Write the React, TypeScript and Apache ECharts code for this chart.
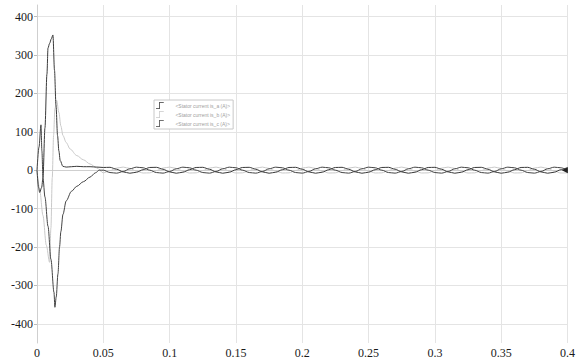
import React, { useEffect, useRef } from "react";
import * as echarts from "echarts";

// Transient part of each phase current: [time (s)], [current (A)]
const aTime = [0, 0.0012, 0.002, 0.0035, 0.0045, 0.006, 0.0075, 0.0083, 0.0095, 0.0108, 0.012, 0.0132, 0.0143, 0.0155, 0.0165, 0.0175, 0.0195, 0.022, 0.026, 0.03, 0.035, 0.04, 0.045];
const aTransient = [0, -45, -58, -45, -20, 110, 250, 318, 330, 342, 352, 260, 170, 90, 50, 25, 10, 8, 9, 10, 9, 9, 8];

const bTime = [0, 0.002, 0.0045, 0.007, 0.0095, 0.0105, 0.0115, 0.0125, 0.0135, 0.0148, 0.0165, 0.018, 0.0196, 0.022, 0.025, 0.03, 0.035, 0.04, 0.045];
const bTransient = [0, -50, -118, -195, -240, -150, -20, 90, 160, 182, 150, 115, 90, 72, 55, 38, 27, 16, 6];

const cTime = [0, 0.0015, 0.003, 0.0037, 0.0045, 0.006, 0.0083, 0.0105, 0.0128, 0.0135, 0.0145, 0.0158, 0.017, 0.018, 0.0196, 0.022, 0.026, 0.03, 0.035, 0.04, 0.044, 0.047];
const cTransient = [0, 60, 118, 50, -20, -70, -146, -232, -318, -357, -330, -270, -200, -160, -115, -80, -55, -42, -30, -18, -7, 0];

// Steady-state part, sampled every 5 ms from 0.05 s to 0.4 s
const steadyStart = 0.05;
const steadyStep = 0.005;
const aSteady = [
  7, 7.4, 2.4, -4.5, -8, -5.4, 1.2,
  7, 7.4, 2.4, -4.5, -8, -5.4, 1.2,
  7, 7.4, 2.4, -4.5, -8, -5.4, 1.2,
  7, 7.4, 2.4, -4.5, -8, -5.4, 1.2,
  7, 7.4, 2.4, -4.5, -8, -5.4, 1.2,
  7, 7.4, 2.4, -4.5, -8, -5.4, 1.2,
  7, 7.4, 2.4, -4.5, -8, -5.4, 1.2,
  7, 7.4, 2.4, -4.5, -8, -5.4, 1.2,
  7, 7.4, 2.4, -4.5, -8, -5.4, 1.2,
  7, 7.4, 2.4, -4.5, -8, -5.4, 1.2,
  7,
];
const bSteady = [
  -7, -1.2, 5.4, 8, 4.5, -2.4, -7.4,
  -7, -1.2, 5.4, 8, 4.5, -2.4, -7.4,
  -7, -1.2, 5.4, 8, 4.5, -2.4, -7.4,
  -7, -1.2, 5.4, 8, 4.5, -2.4, -7.4,
  -7, -1.2, 5.4, 8, 4.5, -2.4, -7.4,
  -7, -1.2, 5.4, 8, 4.5, -2.4, -7.4,
  -7, -1.2, 5.4, 8, 4.5, -2.4, -7.4,
  -7, -1.2, 5.4, 8, 4.5, -2.4, -7.4,
  -7, -1.2, 5.4, 8, 4.5, -2.4, -7.4,
  -7, -1.2, 5.4, 8, 4.5, -2.4, -7.4,
  -7,
];
const cSteady = [
  0, -6.2, -7.8, -3.5, 3.5, 7.8, 6.2,
  0, -6.2, -7.8, -3.5, 3.5, 7.8, 6.2,
  0, -6.2, -7.8, -3.5, 3.5, 7.8, 6.2,
  0, -6.2, -7.8, -3.5, 3.5, 7.8, 6.2,
  0, -6.2, -7.8, -3.5, 3.5, 7.8, 6.2,
  0, -6.2, -7.8, -3.5, 3.5, 7.8, 6.2,
  0, -6.2, -7.8, -3.5, 3.5, 7.8, 6.2,
  0, -6.2, -7.8, -3.5, 3.5, 7.8, 6.2,
  0, -6.2, -7.8, -3.5, 3.5, 7.8, 6.2,
  0, -6.2, -7.8, -3.5, 3.5, 7.8, 6.2,
  0,
];

const seriesNames = [
  "<Stator current is_a (A)>",
  "<Stator current is_b (A)>",
  "<Stator current is_c (A)>",
];
const seriesColors = ["#3a3a3a", "#c9c9c9", "#444444"];
const yTicks = [-400, -300, -200, -100, 0, 100, 200, 300, 400];

function build(times: number[], vals: number[], steady: number[]) {
  const pts: number[][] = times.map((t, i) => [t, vals[i]]);
  steady.forEach((v, i) => {
    pts.push([+(steadyStart + i * steadyStep).toFixed(4), v]);
  });
  return pts;
}

const stepIcon = "path://M0,8 L4,8 L4,0 L10,0 L10,1 L5,1 L5,9 L0,9 Z";
const serifFont = "Liberation Serif";

export default function App() {
  const ref = useRef<HTMLDivElement>(null);
  useEffect(() => {
    if (!ref.current) return;
    const chart = echarts.init(ref.current, null, { renderer: "svg" });
    const data = [
      build(aTime, aTransient, aSteady),
      build(bTime, bTransient, bSteady),
      build(cTime, cTransient, cSteady),
    ];
    chart.setOption({
      animation: false,
      backgroundColor: "#ffffff",
      textStyle: { fontFamily: serifFont },
      grid: { left: 37, right: 8, top: 5, bottom: 17 },
      legend: {
        left: 154,
        top: 100,
        orient: "vertical",
        itemWidth: 9,
        itemHeight: 7,
        itemGap: 2,
        padding: [2, 3, 2, 2],
        borderColor: "#c8c8c8",
        borderWidth: 1,
        backgroundColor: "#ffffff",
        textStyle: { fontSize: 5, color: "#a0a0a0", fontFamily: "Liberation Sans", padding: [0, 0, 0, 6] },
        data: seriesNames.map((n) => ({ name: n, icon: stepIcon })),
      },
      xAxis: {
        type: "value",
        min: 0,
        max: 0.4,
        interval: 0.05,
        axisLine: { show: true, lineStyle: { color: "#cfcfcf" } },
        axisTick: { show: false },
        axisLabel: {
          color: "#1a1a1a",
          fontFamily: serifFont,
          fontSize: 12,
          margin: 4,
        },
        splitLine: { show: true, lineStyle: { color: "#e4e4e4" } },
      },
      yAxis: {
        type: "value",
        min: -450,
        max: 430,
        axisLine: { show: true, lineStyle: { color: "#cfcfcf" } },
        axisTick: { show: true, length: 3, customValues: yTicks, lineStyle: { color: "#bbb" } },
        axisLabel: {
          customValues: yTicks,
          color: "#1a1a1a",
          fontFamily: serifFont,
          fontSize: 12,
          margin: 4,
        },
        splitLine: { show: true, lineStyle: { color: "#e4e4e4" } },
      },
      series: data.map((d, i) => ({
        name: seriesNames[i],
        type: "line",
        data: d,
        showSymbol: false,
        smooth: 0.3,
        smoothMonotone: "x",
        lineStyle: { width: 1, color: seriesColors[i] },
        itemStyle: { color: seriesColors[i] },
        z: i === 1 ? 1 : 2,
        markPoint:
          i === 0
            ? {
                symbol: "triangle",
                symbolSize: 6,
                symbolRotate: 90,
                itemStyle: { color: "#222" },
                label: { show: false },
                data: [{ coord: [0.398, 0] }],
              }
            : undefined,
      })),
    });
    return () => chart.dispose();
  }, []);
  return (
    <div
      ref={ref}
      style={{ position: "fixed", left: 0, top: 0, width: 578, height: 360 }}
    />
  );
}
